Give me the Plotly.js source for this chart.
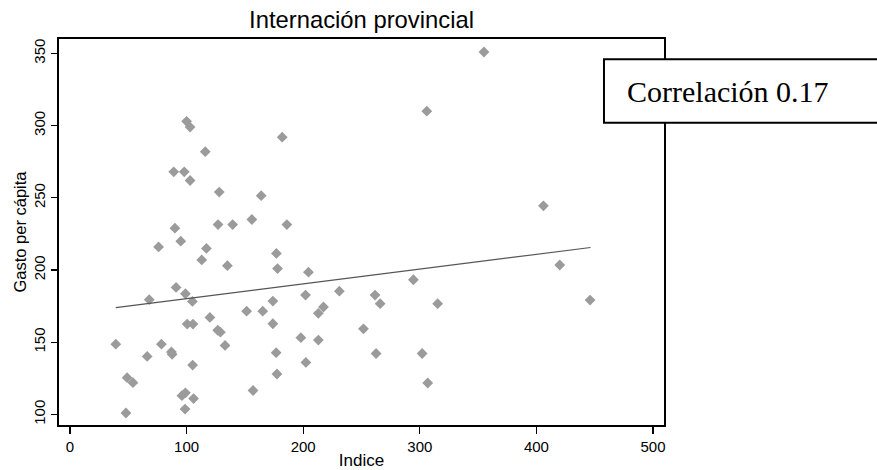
<!DOCTYPE html>
<html>
<head>
<meta charset="utf-8">
<script src="https://cdn.plot.ly/plotly-3.0.1.min.js"></script>
<style>html,body{margin:0;padding:0;background:#fff;}#chart{width:877px;height:470px;}</style>
</head>
<body>
<div id="chart"></div>
<script>
// Scatter data: Indice (x) vs Gasto per cápita (y)
const indice = [355, 306, 100, 103, 182, 116, 89, 98, 103, 128, 164, 406, 156, 127, 139.5, 186, 90, 95, 76, 117,
  177, 113, 178, 420, 135, 204.5, 294.5, 91, 99, 202, 231, 261.6, 68, 446, 105, 174, 266, 315.3, 217.4, 213,
  151.5, 165.3, 120, 100.5, 105.5, 174, 251.7, 126.7, 129, 198, 213, 39.3, 78.4, 133, 87, 87.6, 66.2, 176.8,
  262.5, 302, 105.2, 202.3, 177.5, 306.8, 49, 54, 96, 99, 106, 157, 48, 98.7];
const gasto = [351, 310, 303, 299, 292, 282, 268, 268, 262, 254, 251.5, 244.5, 235, 231.5, 231.5, 231.5, 229, 220, 216, 215,
  211.5, 207, 201, 203.5, 203, 198.5, 193.3, 188, 183.6, 182.7, 185.4, 182.7, 179.5, 179.2, 178.3, 178.5, 176.7, 176.7, 174.4, 170,
  171.5, 171.5, 167.2, 162.6, 162.6, 162.8, 159.3, 158.3, 157, 153.2, 151.5, 148.7, 148.7, 147.8, 143.3, 141.7, 140.2, 142.8,
  142.2, 142.2, 134.2, 136, 128, 121.8, 125.5, 122, 113, 115, 111, 116.6, 101, 103.7];
// Fitted line end points
const fitX = [39.3, 446.4];
const fitY = [174, 215.6];
const xTicks = [0, 100, 200, 300, 400, 500];
const yTicks = [100, 150, 200, 250, 300, 350];
const titleText = 'Internación provincial';
const xTitle = 'Indice';
const yTitle = 'Gasto per cápita';
const corrText = 'Correlación 0.17';

const sans = 'Liberation Sans, Arial, Helvetica, sans-serif';

const traces = [
  {
    x: indice, y: gasto, type: 'scatter', mode: 'markers',
    marker: {symbol: 'diamond', size: 8.3, color: 'rgb(155,155,155)', line: {width: 0}},
    hoverinfo: 'x+y'
  },
  {
    x: fitX, y: fitY, type: 'scatter', mode: 'lines',
    line: {color: 'rgb(85,85,85)', width: 1.2}
  }
];

const layout = {
  width: 877, height: 470,
  margin: {l: 59, r: 213, t: 39, b: 45, pad: 0},
  paper_bgcolor: '#fff', plot_bgcolor: '#fff',
  showlegend: false,
  font: {family: sans, color: '#000'},
  title: {
    text: titleText, font: {family: sans, size: 23.8, color: '#000'},
    xref: 'paper', x: 0.5, xanchor: 'center',
    yref: 'container', y: 0.975, yanchor: 'top'
  },
  xaxis: {
    range: [-9.4, 509.4], tickvals: xTicks, ticktext: xTicks.map(String),
    showgrid: false, zeroline: false,
    showline: true, mirror: true, linecolor: '#000', linewidth: 2,
    ticks: 'outside', ticklen: 7, tickwidth: 1.2, tickcolor: '#000',
    tickfont: {family: sans, size: 15, color: '#000'},
    title: {text: xTitle, font: {family: sans, size: 17, color: '#000'}, standoff: 2}
  },
  yaxis: {
    range: [92.7, 360], tickvals: yTicks, ticktext: yTicks.map(String),
    showgrid: false, zeroline: false,
    showline: true, mirror: true, linecolor: '#000', linewidth: 2,
    ticks: 'outside', ticklen: 6, tickwidth: 1.2, tickcolor: '#000',
    tickangle: -90,
    tickfont: {family: sans, size: 15, color: '#000'},
    title: {text: yTitle, font: {family: sans, size: 16.5, color: '#000'}, standoff: 0}
  },
  shapes: [
    {type: 'rect', xref: 'paper', yref: 'paper', x0: 0.9008, x1: 1.36, y0: 0.7832, y1: 0.9474,
     line: {color: '#000', width: 2}, fillcolor: '#fff', layer: 'above'}
  ],
  annotations: [
    {text: corrText, xref: 'paper', yref: 'paper', x: 1.105, y: 0.865,
     xanchor: 'center', yanchor: 'middle', showarrow: false,
     font: {family: 'Liberation Serif, Times New Roman, serif', size: 30, color: '#000'}}
  ]
};

Plotly.newPlot('chart', traces, layout, {displayModeBar: false, staticPlot: true});
</script>
</body>
</html>
